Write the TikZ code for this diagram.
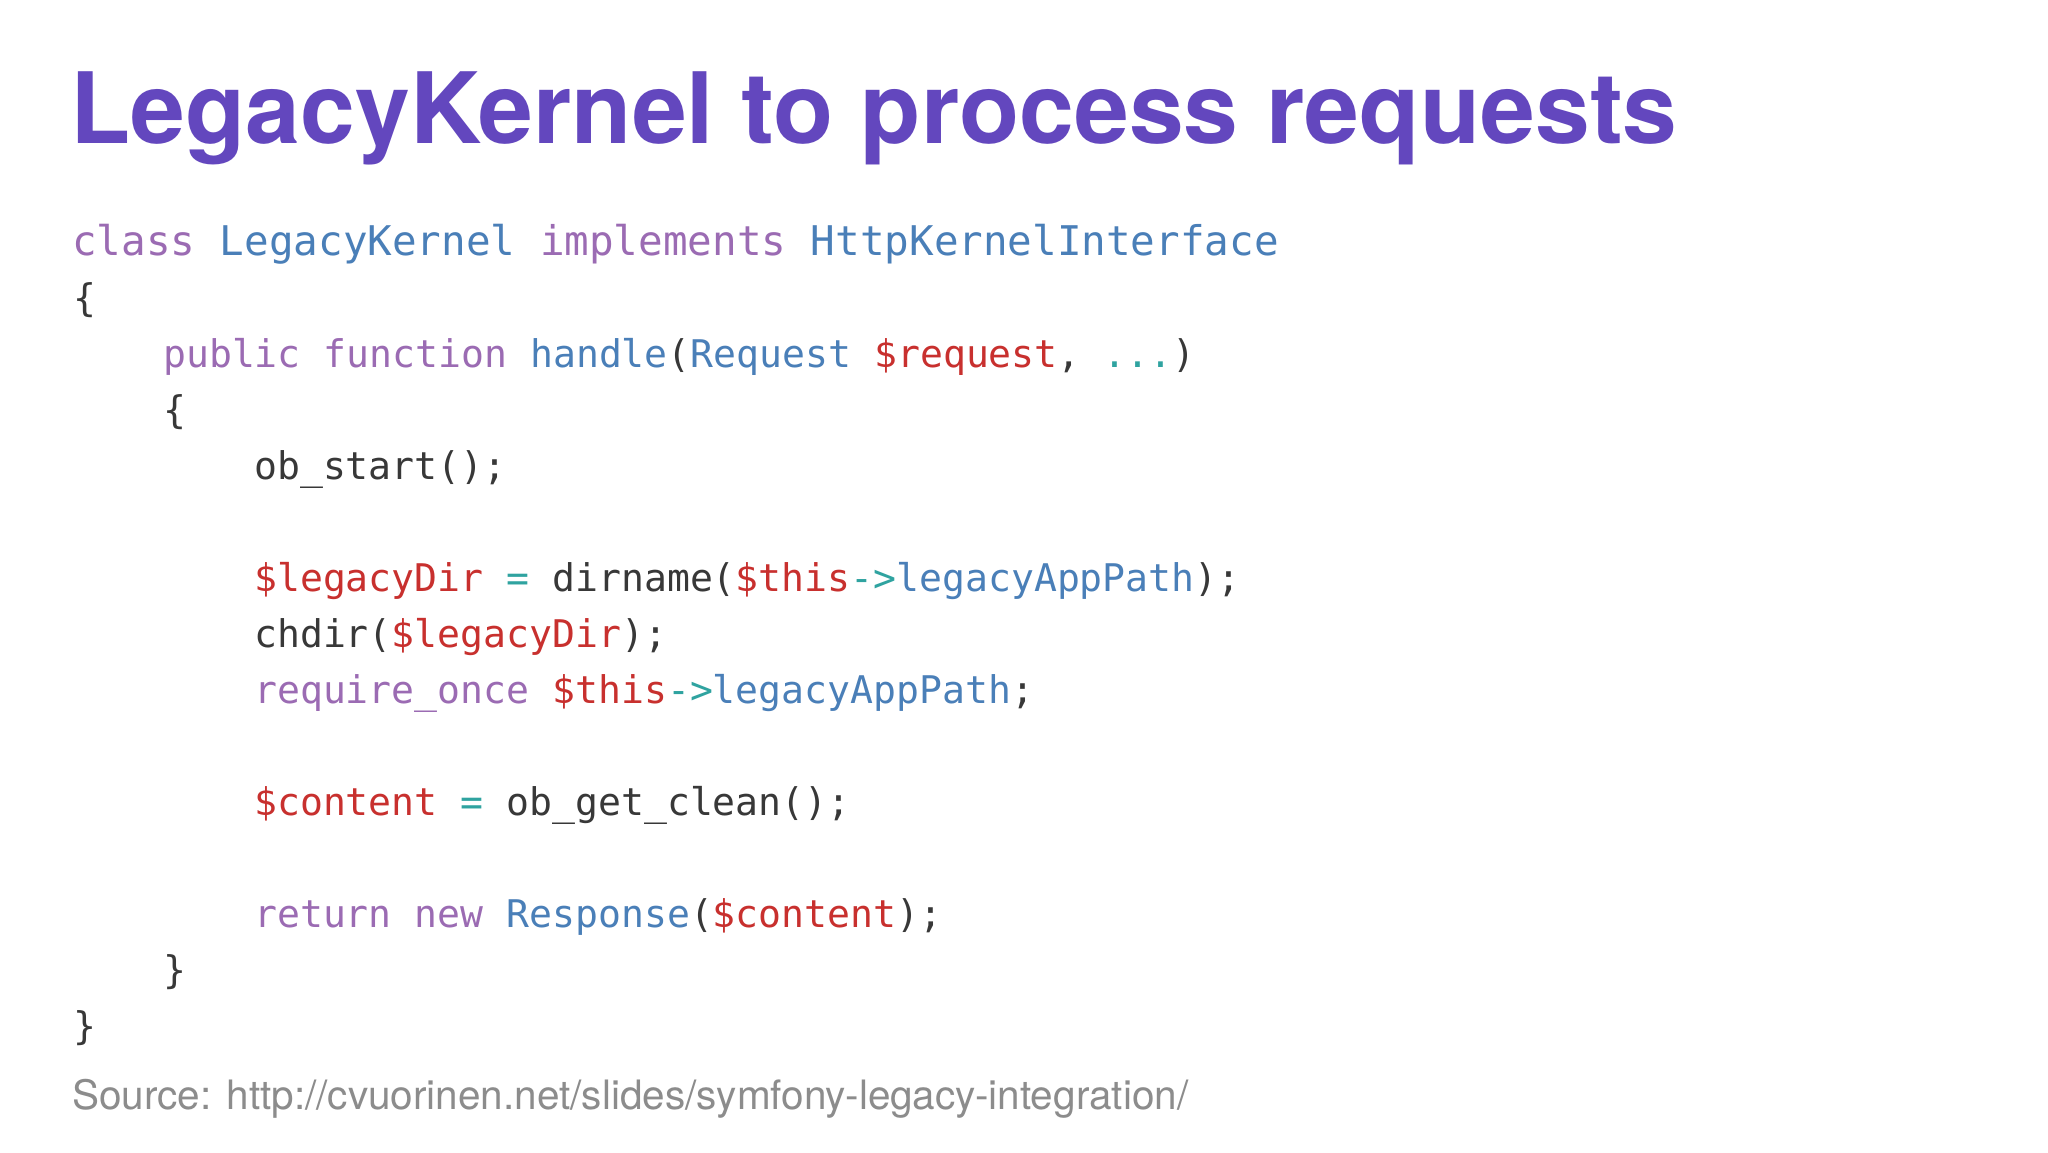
\documentclass[tikz,border=0pt]{standalone}
\usepackage{fontspec}
\setmainfont{TeX Gyre Heros}
\setmonofont{DejaVu Sans Mono}
\definecolor{ttl}{HTML}{6347BE}
\definecolor{ckwc}{HTML}{9B6BB3}
\definecolor{ctyc}{HTML}{4A7FB8}
\definecolor{cvrc}{HTML}{C8302E}
\definecolor{copc}{HTML}{2FA3A0}
\definecolor{cplc}{HTML}{383838}
\newcommand{\ckw}[1]{\textcolor{ckwc}{#1}}
\newcommand{\cty}[1]{\textcolor{ctyc}{#1}}
\newcommand{\cvr}[1]{\textcolor{cvrc}{#1}}
\newcommand{\cop}[1]{\textcolor{copc}{#1}}
\begin{document}
\begin{tikzpicture}[x=1pt,y=-1pt,
  code/.style={anchor=base west,inner sep=0pt,font=\fontsize{38.1}{40}\ttfamily,text=cplc}]
\useasboundingbox (0,0) rectangle (2048,1152);
\fill[white] (0,0) rectangle (2048,1152);
\node[anchor=base west,inner sep=0pt,text=ttl,font=\fontsize{98.5}{110}\selectfont\bfseries] (title) at (70,143) {LegacyKernel to process requests};
\node[code,font=\fontsize{40.9}{42}\ttfamily] (l0) at (72,255) {\ckw{class} \cty{LegacyKernel} \ckw{implements} \cty{HttpKernelInterface}};
\node[code] (l1) at (73,311) {\{};
\node[code] (l2) at (163,367) {\ckw{public} \ckw{function} \cty{handle}(\cty{Request} \cvr{\$request}, \cop{...})};
\node[code] (l3) at (163,423) {\{};
\node[code] (l4) at (254,479) {ob\_start();};
\node[code] (l6) at (254,591) {\cvr{\$legacyDir} \cop{=} dirname(\cvr{\$this}\cop{->}\cty{legacyAppPath});};
\node[code] (l7) at (254,647) {chdir(\cvr{\$legacyDir});};
\node[code] (l8) at (254,703) {\ckw{require\_once} \cvr{\$this}\cop{->}\cty{legacyAppPath};};
\node[code] (l10) at (254,815) {\cvr{\$content} \cop{=} ob\_get\_clean();};
\node[code] (l12) at (254,927) {\ckw{return} \ckw{new} \cty{Response}(\cvr{\$content});};
\node[code] (l13) at (163,983) {\}};
\node[code] (l14) at (73,1039) {\}};
\node[anchor=base west,inner sep=0pt,text=black!45,font=\fontsize{40.5}{44}\selectfont] (src) at (72,1109) {Source: http://cvuorinen.net/slides/symfony-legacy-integration/};
\end{tikzpicture}
\end{document}
